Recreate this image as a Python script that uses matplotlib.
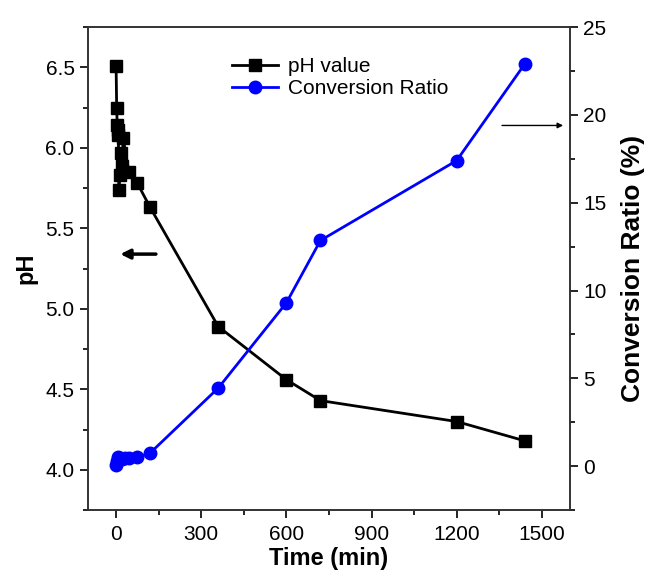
import matplotlib
matplotlib.use("Agg")
import matplotlib.pyplot as plt
from matplotlib.ticker import MultipleLocator

plt.rcParams['font.family'] = ['Liberation Sans', 'DejaVu Sans']

# pH 数据
time_ph = [0, 2, 4, 6, 8, 10, 12, 16, 20, 25, 45, 75, 120, 360, 600, 720, 1200, 1440]
ph_value = [6.51, 6.25, 6.14, 6.11, 6.08, 5.74, 5.83, 5.97, 5.89, 6.06, 5.85, 5.78, 5.63,
            4.89, 4.56, 4.43, 4.30, 4.18]

# 转化率数据
time_cr = [0, 4, 8, 12, 20, 30, 45, 75, 120, 360, 600, 720, 1200, 1440]
conv_ratio = [0.05, 0.3, 0.5, 0.45, 0.4, 0.45, 0.45, 0.5, 0.75, 4.45, 9.3, 12.85, 17.4, 22.9]

fig = plt.figure(figsize=(6.45, 5.77), dpi=100)
ax = fig.add_axes([0.136, 0.116, 0.748, 0.837])
ax2 = ax.twinx()

l1, = ax.plot(time_ph, ph_value, color='black', marker='s', markersize=8.5, linewidth=2,
              label='pH value')
l2, = ax2.plot(time_cr, conv_ratio, color='blue', marker='o', markersize=9, linewidth=2,
               label='Conversion Ratio')

ax.set_xlim(-100, 1600)
ax.set_ylim(3.75, 6.75)
ax2.set_ylim(-2.5, 25)

ax.xaxis.set_major_locator(MultipleLocator(300))
ax.xaxis.set_minor_locator(MultipleLocator(150))
ax.yaxis.set_major_locator(MultipleLocator(0.5))
ax.yaxis.set_minor_locator(MultipleLocator(0.25))
ax2.yaxis.set_major_locator(MultipleLocator(5))
ax2.yaxis.set_minor_locator(MultipleLocator(2.5))

for a in (ax, ax2):
    a.tick_params(which='major', direction='out', length=6, width=1.2, labelsize=15)
    a.tick_params(which='minor', direction='out', length=3.5, width=1.2)
    for s in a.spines.values():
        s.set_linewidth(1.2)
        s.set_color('#333333')
ax.tick_params(top=False, right=False, which='both')
ax.tick_params(axis='x', which='major', pad=5)

ax.set_xlabel('Time (min)', fontsize=17, fontweight='bold', labelpad=2)
ax.set_ylabel('pH', fontsize=17, fontweight='bold', labelpad=6)
ax2.set_ylabel('Conversion Ratio (%)', fontsize=19, fontweight='bold', labelpad=10)

# 箭头
ax.annotate('', xy=(5, 5.34), xytext=(150, 5.34),
            arrowprops=dict(arrowstyle='-|>', color='black', lw=2.5, mutation_scale=14))
ax2.annotate('', xy=(1585, 19.4), xytext=(1350, 19.4),
             arrowprops=dict(arrowstyle='-|>', color='black', lw=1, mutation_scale=8))

ax.legend([l1, l2], ['pH value', 'Conversion Ratio'], loc='upper left',
          bbox_to_anchor=(0.26, 0.977), frameon=False, fontsize=15,
          handlelength=2.2, handletextpad=0.5, labelspacing=0.15)

fig.savefig('out.png', dpi=100)
